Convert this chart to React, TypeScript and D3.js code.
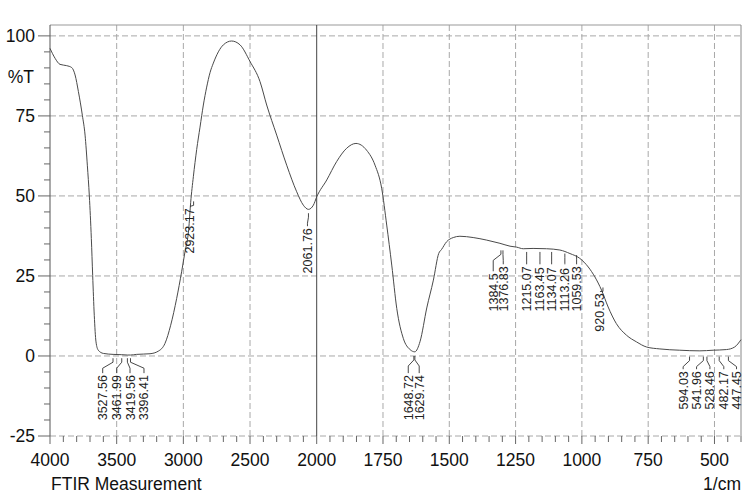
import React, { useEffect, useRef } from "react";
import * as d3 from "d3";

// Spectrum (wavenumber 1/cm, %T)
const wavenumbers = [
  4000, 3962, 3925, 3875, 3837, 3812, 3787, 3757, 3737, 3720, 3705, 3690, 3680, 3668, 3655, 3638,
  3600, 3527, 3462, 3420, 3396, 3350, 3250, 3188, 3138, 3095, 3050, 3013, 2988, 2960, 2945, 2925,
  2900, 2875, 2850, 2825, 2800, 2775, 2700, 2638, 2575, 2500, 2425, 2375, 2300, 2225, 2150,
  2100, 2062, 2025, 2000, 1962, 1925, 1887, 1852, 1812, 1780, 1755, 1736, 1717, 1698, 1673, 1648,
  1630, 1610, 1585, 1560, 1540, 1529, 1510, 1485, 1460, 1410, 1359, 1309, 1271, 1246, 1221, 1184,
  1133, 1083, 1045, 1008, 976, 951, 926, 901, 870, 832, 794, 756, 706, 631, 555, 505, 455, 424, 400,
];
const transmittance = [
  96.1, 93.0, 91.1, 90.7, 90.1, 87.8, 82.6, 75.1, 69.0, 59.6, 50.0, 36.7, 25.2, 12.7, 4.4, 1.8,
  0.8, 0.5, 0.4, 0.3, 0.3, 0.5, 0.7, 1.5, 3.9, 9.6, 18.0, 26.3, 32.5, 39.5, 48.0, 56.0,
  64.5, 71.5, 78.4, 84.0, 88.5, 91.5, 97.2, 98.4, 97.2, 92.0, 85.7, 78.4, 69.0, 59.6, 51.3,
  47.1, 45.8, 47.1, 49.7, 55.0, 60.7, 64.9, 66.4, 64.3, 59.6, 52.4, 40.9, 28.4, 14.8, 5.4, 2.0,
  1.3, 4.6, 15.0, 23.7, 32.0, 33.3, 35.7, 37.0, 37.4, 37.0, 36.2, 35.2, 34.3, 34.0, 33.5, 33.6,
  33.5, 33.1, 32.0, 30.5, 27.8, 24.7, 20.6, 15.3, 10.1, 6.5, 4.4, 2.8, 2.2, 1.8, 1.6, 1.8, 2.0, 2.8, 5.1,
];

// Peak picks
const peakWavenumbers = [
  3527.56, 3461.99, 3419.56, 3396.41, 2923.17, 2061.76, 1648.72, 1629.74, 1384.5, 1376.83, 1215.07,
  1163.45, 1134.07, 1113.26, 1059.53, 920.53, 594.03, 541.96, 528.46, 482.17, 447.45,
];
const peakLabels = [
  "3527.56", "3461.99", "3419.56", "3396.41", "2923.17", "2061.76", "1648.72", "1629.74", "1384.5",
  "1376.83", "1215.07", "1163.45", "1134.07", "1113.26", "1059.53", "920.53", "594.03", "541.96",
  "528.46", "482.17", "447.45",
];

const yTicks = [100, 75, 50, 25, 0, -25];
const xTicks = [4000, 3500, 3000, 2500, 2000, 1750, 1500, 1250, 1000, 750, 500];

// label layout: text shift (px), leader top shift (px), leader start (%T), text base (%T)
const labelDx = [-10.3, -5, 2.6, 13.5, -3.6, -1, -1.6, 4.3, 13.3, 21.3, 1.8, 1.4, 5.3, 13, 10.5, -3, -6.4, -6.8, 3, 4.6, 8.1];
const leaderDx = [0, 0, 0, 0, 0, 0, 4, 0, 21, 21, 1.8, 1.4, 5.3, 13, 10.5, 0, 0, 0, 0, 0, 0];
const leaderStart = [-0.7, -0.7, -0.7, -0.7, 48.3, 44.6, 0, 0, 33, 33, 32.5, 32.5, 32.5, 32, 31.5, 21.4, -0.2, -0.2, -0.2, -0.2, -0.2];
const labelBase = [-20.1, -20.1, -20.1, -20.1, 32, 25.8, -20.1, -20.1, 13.9, 13.9, 13.9, 13.9, 13.9, 13.9, 13.9, 7.6, -16.7, -16.7, -16.7, -16.7, -16.7];

const FONT = "'Liberation Sans', Arial, sans-serif";

const App = () => {
  const ref = useRef<SVGSVGElement>(null);

  useEffect(() => {
    const svg = d3.select(ref.current);
    svg.selectAll("*").remove();

    const left = 50, right = 741, top = 25, bottom = 436;

    // FTIR scale break at 2000
    const x = d3.scaleLinear().domain([4000, 2000, 400]).range([left, 316.7, right]);
    const y = d3.scaleLinear().domain([-25, 103.4]).range([bottom, top]);

    svg.append("rect").attr("width", 756).attr("height", 495).attr("fill", "#fff");

    // grid
    const grid = svg.append("g").attr("stroke", "#a8a8a8").attr("stroke-dasharray", "6,3").attr("stroke-width", 1);
    xTicks.filter(d => d !== 4000 && d !== 2000).forEach(d => {
      grid.append("line").attr("x1", x(d)).attr("x2", x(d)).attr("y1", top).attr("y2", bottom);
    });
    yTicks.forEach(d => {
      grid.append("line").attr("x1", left).attr("x2", right).attr("y1", y(d)).attr("y2", y(d));
    });

    // frame
    svg.append("line").attr("x1", left).attr("x2", right).attr("y1", top).attr("y2", top).attr("stroke", "#999");
    svg.append("line").attr("x1", right).attr("x2", right).attr("y1", top).attr("y2", bottom).attr("stroke", "#888");
    svg.append("line").attr("x1", left).attr("x2", left).attr("y1", top).attr("y2", bottom).attr("stroke", "#555");
    svg.append("line").attr("x1", x(2000)).attr("x2", x(2000)).attr("y1", top).attr("y2", bottom).attr("stroke", "#444");

    // y ticks every 5
    const yt = svg.append("g").attr("stroke", "#666");
    d3.range(-25, 101, 5).forEach(v => {
      const len = v % 25 === 0 ? 12 : 6;
      yt.append("line").attr("x1", left - len).attr("x2", left).attr("y1", y(v)).attr("y2", y(v));
    });

    // x ticks: 100 steps left of 2000, 50 steps right of it
    const xt = svg.append("g").attr("stroke", "#666");
    const minor = d3.range(4000, 2000, -100).concat(d3.range(2000, 399, -50));
    minor.forEach(w => {
      const len = xTicks.includes(w) ? 8 : 6;
      xt.append("line").attr("x1", x(w)).attr("x2", x(w)).attr("y1", bottom).attr("y2", bottom + len);
    });

    const fsAxis = 17.5;

    // tick labels
    svg.append("g").selectAll("text").data(yTicks).enter().append("text")
      .attr("x", 35).attr("y", d => y(d)).attr("dy", "0.36em")
      .attr("text-anchor", "end").attr("font-family", FONT).attr("font-size", fsAxis).attr("fill", "#111")
      .text(d => d);
    svg.append("text").attr("x", 34).attr("y", 77).attr("dy", "0.36em")
      .attr("text-anchor", "end").attr("font-family", FONT).attr("font-size", fsAxis).attr("fill", "#111")
      .text("%T");

    svg.append("g").selectAll("text").data(xTicks).enter().append("text")
      .attr("x", d => x(d)).attr("y", 466)
      .attr("text-anchor", "middle").attr("font-family", FONT).attr("font-size", fsAxis).attr("fill", "#111")
      .text(d => d);

    svg.append("text").attr("x", 51).attr("y", 490).attr("font-family", FONT).attr("font-size", fsAxis).attr("fill", "#111")
      .text("FTIR Measurement");
    svg.append("text").attr("x", 741).attr("y", 490).attr("text-anchor", "end").attr("font-family", FONT)
      .attr("font-size", fsAxis).attr("fill", "#111").text("1/cm");

    // spectrum
    const pts = wavenumbers.map((w, i) => [w, transmittance[i]] as [number, number]);
    const line = d3.line<[number, number]>().x(d => x(d[0])).y(d => y(d[1])).curve(d3.curveMonotoneX);
    svg.append("path").datum(pts).attr("d", line).attr("fill", "none").attr("stroke", "#4a4a4a").attr("stroke-width", 1);

    // peak labels with leaders
    const fs = 12.5;
    const labels = svg.append("g");
    peakWavenumbers.forEach((w, i) => {
      const px = x(w);
      const lx = px + leaderDx[i];
      const tx = px + labelDx[i];
      const base = y(labelBase[i]);
      const txt = peakLabels[i];
      const len = (txt.length - 1) * 0.556 * fs + 0.278 * fs;
      const textTop = base - len;
      const y0 = y(leaderStart[i]);
      const y3 = textTop - 2;
      const y1 = Math.min(y0 + 4, y3);
      const y2 = Math.min(y1 + 6, y3);
      labels.append("path")
        .attr("d", d3.line()([[lx, y0], [lx, y1], [tx, y2], [tx, y3]]))
        .attr("fill", "none").attr("stroke", "#333").attr("stroke-width", 0.9);
      labels.append("text")
        .attr("transform", `translate(${tx + 4.5},${base}) rotate(-90)`)
        .attr("font-family", FONT).attr("font-size", fs).attr("fill", "#222")
        .text(txt);
    });
  }, []);

  return <svg ref={ref} width={756} height={495} style={{ position: "absolute", left: 0, top: 0 }}></svg>;
};

export default App;
